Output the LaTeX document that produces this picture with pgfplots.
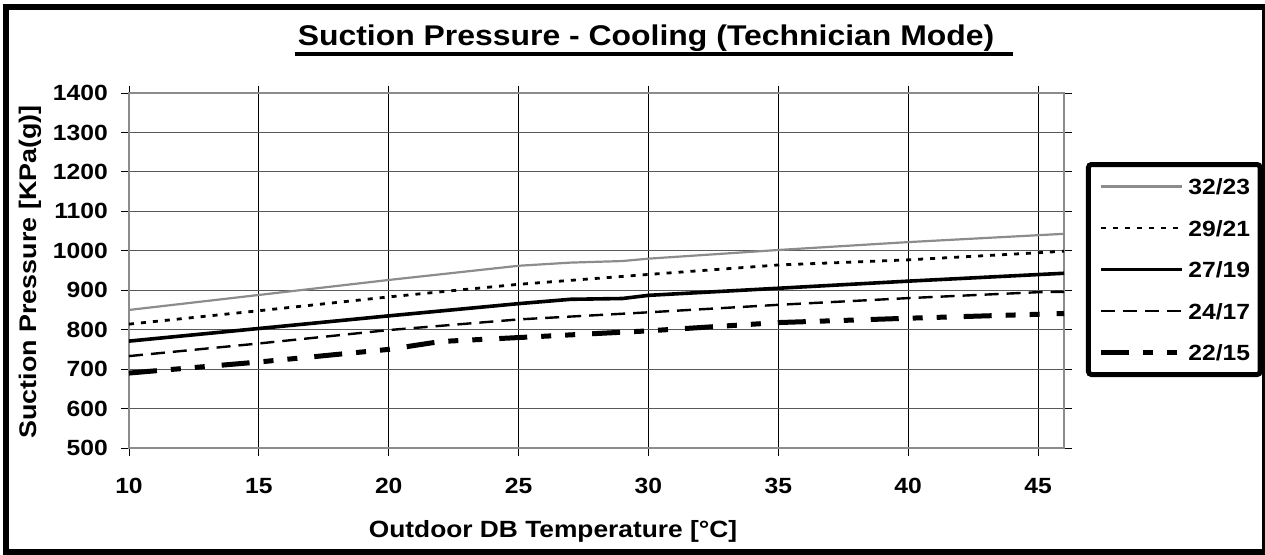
\documentclass[border=0pt]{standalone}
\usepackage{fontspec}
\setmainfont{Liberation Sans}[FakeStretch=1.12]
\usepackage{pgfplots}
\pgfplotsset{compat=1.18}
\definecolor{lgray}{HTML}{8C8C8C}
\begin{document}
\begin{tikzpicture}[x=1pt,y=1pt]
\useasboundingbox (-129,-106) rectangle (1136,448);
\draw[line width=6pt] (-123,-104) rectangle (1136,441);
\begin{axis}[
  at={(0,0)}, anchor=south west,
  scale only axis, width=935pt, height=355pt,
  xmin=10, xmax=46, ymin=500, ymax=1400,
  xtick={10,15,...,45}, ytick={500,600,...,1400},
  tick align=outside, major tick length=7.5pt,
  tick style={black, line width=0.8pt},
  xmajorgrids, ymajorgrids,
  x grid style={black, line width=0.9pt},
  y grid style={black!65, line width=1.2pt},
  axis line style={lgray, line width=1.2pt},
  /pgf/number format/assume math mode=true,
  /pgf/number format/1000 sep={},
  ticklabel style={font=\fontsize{22}{24}\selectfont\bfseries, inner sep=0pt},
  xticklabel style={anchor=base, text height=16pt, text depth=0pt, yshift=-38pt},
  yticklabel style={anchor=east, xshift=-13.5pt},
  xlabel={Outdoor DB Temperature [°C]},
  ylabel={Suction Pressure [KPa(g)]},
  every axis x label/.style={at={(axis description cs:0.4535,-0.2507)}, anchor=base, font=\fontsize{23.5}{25}\selectfont\bfseries},
  every axis y label/.style={at={(axis description cs:-0.1059,0.496)}, rotate=90, anchor=center, font=\fontsize{24}{26}\selectfont\bfseries},
  legend cell align=left,
  legend image code/.code={\draw[#1] (0pt,0pt) -- (81pt,0pt);},
  legend style={at={(1.0235,0.8056)}, anchor=north west, draw=black, line width=5pt,
    rounded corners=3pt, inner xsep=10pt, inner ysep=14pt, row sep=25.5pt, column sep=4pt,
    nodes={inner sep=0pt, text height=16pt, text depth=0pt},
    font=\fontsize{22}{24}\selectfont\bfseries},
]
\addplot[lgray, line width=2.2pt] coordinates {(10,850) (15,888) (20,926) (25,962) (27,970) (29,974) (30,980) (35,1002) (40,1022) (46,1043)};
\addlegendentry{32/23}
\addplot[black, line width=2.8pt, dash pattern=on 5pt off 7pt] coordinates {(10,814) (15,848) (20,883) (22,896) (25,915) (30,940) (35,964) (40,977) (45,995) (46,999)};
\addlegendentry{29/21}
\addplot[black, line width=3.6pt] coordinates {(10,771) (15,803) (20,835) (25,866) (27,877) (29,879) (30,887) (35,905) (40,923) (46,943)};
\addlegendentry{27/19}
\addplot[black, line width=2.4pt, dash pattern=on 14pt off 8pt] coordinates {(10,733) (15,765) (20,799) (25,826) (30,844) (35,863) (40,880) (45,895) (46,896)};
\addlegendentry{24/17}
\addplot[black, line width=5pt, dash pattern=on 28pt off 14pt on 10pt off 14pt on 10pt off 17pt] coordinates {(10,690) (15,718) (20,750) (22,770) (25,780) (30,797) (35,818) (40,829) (46,841)};
\addlegendentry{22/15}
\end{axis}
\node[font=\fontsize{28.5}{30}\selectfont\bfseries, anchor=base, inner sep=0pt] at (517,402) {Suction Pressure - Cooling (Technician Mode)};
\draw[line width=4pt] (166,394) -- (884,394);
\end{tikzpicture}
\end{document}
